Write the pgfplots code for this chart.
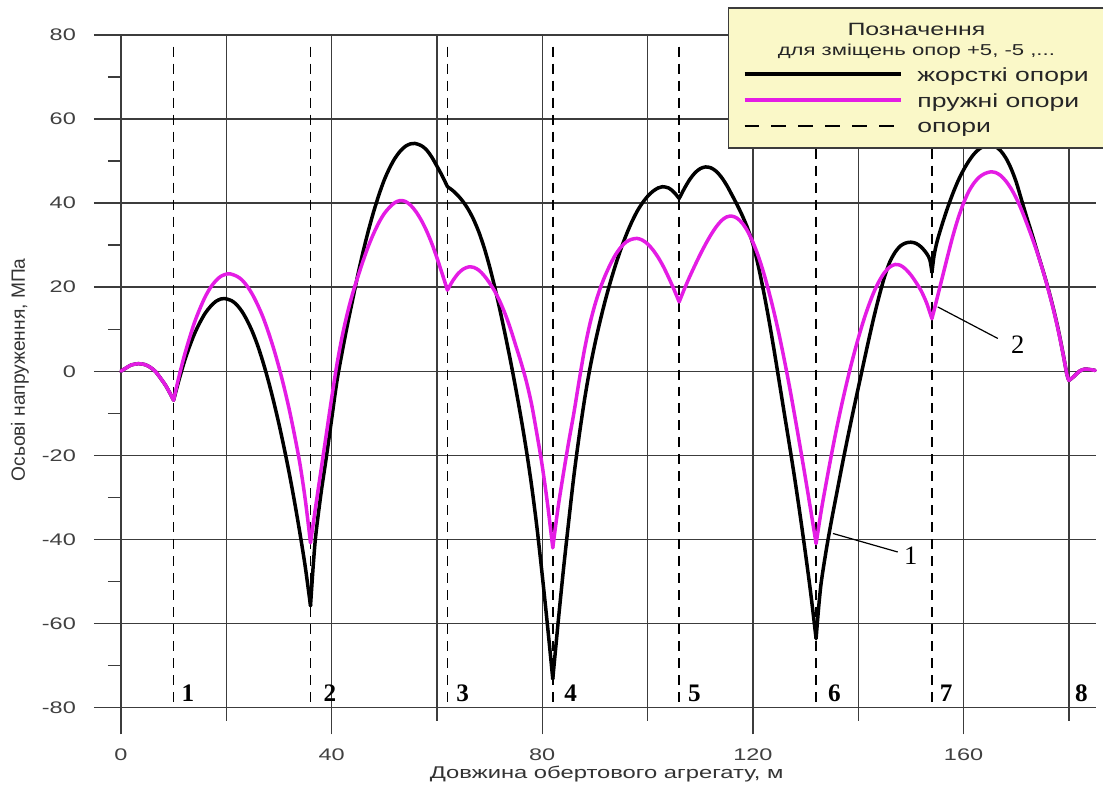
\documentclass[border=0pt]{standalone}
\usepackage{pgfplots}
\pgfplotsset{compat=1.18}
\usepackage{fontspec}
\setmainfont{Liberation Sans}[FakeStretch=1.4]
\newfontfamily\ylabfont{Liberation Sans}
\newfontfamily\numfont{Liberation Serif}
\definecolor{magc}{RGB}{228,28,228}
\definecolor{legbg}{RGB}{250,248,200}
\definecolor{gridc}{RGB}{60,60,60}

\pgfplotsset{
  blk/.style={black, line width=1.75pt, smooth, tension=0.5, line cap=round, line join=round},
  mag/.style={magc, line width=1.75pt, smooth, tension=0.5, line cap=round, line join=round},
}
\tikzset{supnum/.style={font=\numfont\bfseries\fontsize{12.6}{14}\selectfont}}

\begin{document}
\begin{tikzpicture}
\begin{axis}[
  at={(0pt,0pt)}, anchor=south west,
  scale only axis, width=488pt, height=336.5pt,
  xmin=0, xmax=185.2, ymin=-80, ymax=80,
  axis line style={draw=none},
  tick pos=left, tick align=outside,
  xtick={0,40,80,120,160}, minor xtick={20,60,100,140,180},
  ytick={-80,-60,...,80}, minor ytick={-70,-50,...,70},
  xticklabels={0,40,80,120,160},
  yticklabels={-80,-60,-40,-20,0,20,40,60,80},
  xmajorgrids, xminorgrids, ymajorgrids,
  grid style={line width=0.7pt, gridc},
  minor grid style={line width=0.7pt, gridc},
  tick style={line width=0.7pt, gridc},
  major tick length=13.5pt, minor tick length=6.5pt,
  tick label style={font=\fontsize{8.4}{10}\selectfont, text=black!75},
  xticklabel style={yshift=-3.5pt},
  yticklabel style={xshift=-5.5pt},
  xlabel={Довжина обертового агрегату, м},
  ylabel={Осьові напруження, МПа},
  every axis x label/.style={at={(axis description cs:0.498,-0.0996)}, anchor=center,
    font=\fontsize{8.5}{10}\selectfont, text=black!80},
  every axis y label/.style={at={(axis description cs:-0.1035,0.502)}, anchor=center,
    rotate=90, font=\ylabfont\fontsize{9.6}{11}\selectfont, text=black!80},
  clip=false,
]

% supports (dashed)
\pgfplotsinvokeforeach{10,36,62,82,106,132,154}{
  \addplot[black, line width=0.85pt, dash pattern=on 5pt off 3.5pt] coordinates {(#1,77.2) (#1,-80)};
}

% rigid supports (black)
\addplot[blk] coordinates {(0,0) (1,0.8) (2,1.5) (3.3,1.8) (4.5,1.6) (5.5,1.0) (6.5,0) (7.5,-1.6) (8.5,-3.4) (9.3,-5.2) (10,-6.9)};
\addplot[blk] coordinates {(10,-6.9) (11,-2.2) (12,2.1) (13,5.8) (14,9) (15,11.6) (16,13.8) (17,15.4) (18,16.6) (19,17.2) (19.7,17.3) (21,16.8) (22,15.8) (23,14.2) (24,12) (25,9.3) (26,6) (27,2.1) (28,-2.3) (29,-7.2) (30,-12.5) (31,-18.3) (32,-24.5) (33,-31.3) (34,-38.6) (35,-46.5) (36,-55.8)};
\addplot[blk] coordinates {(36,-55.8) (36.5,-46.5) (37,-39) (38,-29) (39,-20.5) (40,-11.5) (41,-2.5) (42,4.5) (43,11) (44,17) (45,23) (46,28.5) (47,33.5) (48,38) (49,42) (50,45.5) (51,48.3) (52,50.6) (53,52.3) (54,53.5) (55,54.1) (55.8,54.2) (57,53.7) (58,52.7) (59,51) (60,48.8) (61,46.5) (62,43.9)};
\addplot[blk] coordinates {(62,43.9) (63,43) (64,41.8) (65,40.3) (66,38.4) (67,36) (68,33) (69,29.3) (70,24.9) (71,19.9) (72,14.4) (73,8.5) (74,2.3) (75,-4.3) (76,-11.3) (77,-18.9) (78,-27.4) (79,-37.2) (80,-48.5) (81,-60.5) (82,-73.2)};
\addplot[blk] coordinates {(82,-73.2) (83,-60) (84,-47.5) (85,-36) (86,-25) (87,-15.5) (88,-7) (89,0.3) (90,6.5) (91,12) (92,17) (93,21.5) (94,25.6) (95,29.3) (96,32.6) (97,35.5) (98,38) (99,40) (100,41.6) (101,42.8) (102,43.6) (102.8,43.9) (104,43.6) (105,42.6) (106,41.1)};
\addplot[blk] coordinates {(106,41.1) (107,43.5) (108,45.6) (109,47.2) (110,48.2) (111,48.6) (112,48.4) (113,47.6) (114,46.2) (115,44.3) (116,42) (117,39.6) (118,37) (119,34) (120,30.3) (121,25.2) (122,19.2) (123,12.5) (124,5.2) (125,-2.5) (126,-10.3) (127,-18) (128,-26) (129,-34.5) (130,-43.5) (131,-53) (132,-63.6)};
\addplot[blk] coordinates {(132,-63.6) (132.5,-56) (133,-50) (134,-42) (135,-35) (136,-28.5) (137,-22) (138,-15.8) (139,-9.8) (140,-4) (141,1.8) (142,7.5) (143,13) (144,18) (145,22.5) (146,26) (147,28.3) (148,29.8) (149,30.5) (150,30.7) (151,30.4) (152,29.5) (153,28) (153.6,26.5) (154,23.5)};
\addplot[blk] coordinates {(154,23.5) (154.4,27.5) (155,31) (156,35.2) (157,39) (158,42.4) (159,45.4) (160,47.9) (161,50) (162,51.7) (163,52.9) (164,53.6) (165,53.8) (166,53.5) (167,52.5) (168,50.8) (169,48.3) (170,45) (171,40.8) (172,36.6) (173,32.6) (174,28.4) (175,24.3) (176,20) (177,15.2) (178,9.8) (179,3.5) (179.6,-0.6) (180,-2.2)};
\addplot[blk] coordinates {(180,-2.2) (181,-1.2) (182,0) (183,0.5) (184,0.4) (185,0.2)};

% elastic supports (magenta)
\addplot[mag] coordinates {(0,0) (1,0.8) (2,1.5) (3.3,1.8) (4.5,1.6) (5.5,1.0) (6.5,0) (7.5,-1.6) (8.5,-3.4) (9.3,-5.2) (10,-6.9)};
\addplot[mag] coordinates {(10,-6.9) (11,-1.4) (12,3.5) (13,7.8) (14,11.7) (15,14.9) (16,17.7) (17,19.9) (18,21.5) (19,22.6) (20.5,23.2) (22,22.6) (23,21.7) (24,20.2) (25,18.2) (26,15.7) (27,12.8) (28,9.3) (29,5.4) (30,1) (31,-3.9) (32,-9.3) (33,-15.4) (34,-22.1) (35,-30.5) (36,-40.8)};
\addplot[mag] coordinates {(36,-40.8) (37,-32) (38,-23.5) (39,-15) (40,-6.5) (41,1.5) (42,8.2) (43,13.8) (44,18.5) (45,22.5) (46,26.3) (47,29.8) (48,32.8) (49,35.4) (50,37.5) (51,39) (52,40.1) (53,40.6) (54,40.4) (55,39.5) (56,38) (57,36) (58,33.5) (59,30.5) (60,27) (61,23.2) (62,19.3)};
\addplot[mag] coordinates {(62,19.3) (63,21.5) (64,23.2) (65,24.3) (66,24.8) (67,24.7) (68,24) (69,22.7) (70,21) (71,19) (72,16.5) (73,13.5) (74,10) (75,6) (76,2) (77,-2.5) (78,-8) (79,-15) (80,-22.5) (81,-31.5) (82,-42)};
\addplot[mag] coordinates {(82,-42) (83,-32.5) (84,-24.5) (85,-17) (86,-10) (87,-2.3) (88,5) (89,11) (90,15.8) (91,19.7) (92,22.9) (93,25.6) (94,27.9) (95,29.6) (96,30.8) (97,31.4) (98,31.6) (99,31.2) (100,30.3) (101,28.9) (102,27.1) (103,24.9) (104,22.3) (105,19.5) (106,16.5)};
\addplot[mag] coordinates {(106,16.5) (107,19.6) (108,22.5) (109,25.2) (110,27.8) (111,30.2) (112,32.4) (113,34.3) (114,35.8) (115,36.7) (116,36.9) (117,36.4) (118,35.2) (119,33.3) (120,30.7) (121,27.5) (122,23.6) (123,19.1) (124,14.1) (125,8.6) (126,2.5) (127,-4) (128,-11) (129,-18.2) (130,-25.6) (131,-33.2) (132,-41)};
\addplot[mag] coordinates {(132,-41) (133,-33) (134,-26) (135,-19.3) (136,-13) (137,-7.2) (138,-1.8) (139,3.2) (140,7.8) (141,12) (142,15.7) (143,18.9) (144,21.5) (145,23.5) (146,24.8) (147,25.4) (148,25.2) (149,24.3) (150,22.9) (151,21.1) (152,19) (153,16.2) (154,12.5)};
\addplot[mag] coordinates {(154,12.5) (154.5,15) (155,17.5) (156,22.5) (157,27.5) (158,32.3) (159,36.5) (160,40) (161,42.8) (162,44.8) (163,46.2) (164,47) (165,47.4) (166,47.3) (167,46.6) (168,45.3) (169,43.5) (170,41.2) (171,38.4) (172,35.2) (173,31.8) (174,28.2) (175,24.2) (176,19.8) (177,15) (178,9.6) (179,3.4) (179.6,-0.6) (180,-2.2)};
\addplot[mag] coordinates {(180,-2.2) (181,-1.2) (182,0) (183,0.5) (184,0.4) (185,0.2)};

% support numbers
\node[supnum] at (axis cs:12.7,-76.7) {1};
\node[supnum] at (axis cs:39.7,-76.7) {2};
\node[supnum] at (axis cs:64.9,-76.7) {3};
\node[supnum] at (axis cs:85.4,-76.7) {4};
\node[supnum] at (axis cs:108.9,-76.7) {5};
\node[supnum] at (axis cs:135.5,-76.7) {6};
\node[supnum] at (axis cs:156.7,-76.7) {7};
\node[supnum] at (axis cs:182.4,-76.7) {8};

% callouts
\draw[line width=0.6pt] (axis cs:135.2,-38.6) -- (axis cs:147.5,-43);
\node[font=\numfont\fontsize{13.3}{15}\selectfont] at (axis cs:150,-43.8) {1};
\draw[line width=0.6pt] (axis cs:155.1,15.3) -- (axis cs:166.5,7.8);
\node[font=\numfont\fontsize{13.3}{15}\selectfont] at (axis cs:170.3,6.2) {2};
\end{axis}

% legend box
\fill[legbg] (304pt,280pt) rectangle (491.5pt,350pt);
\draw[line width=0.75pt, gridc] (491.5pt,350pt) -- (304pt,350pt) -- (304pt,280pt) -- (491.5pt,280pt);
\node[anchor=base, font=\fontsize{8.9}{10}\selectfont, text=black!85] at (398pt,336pt) {Позначення};
\node[anchor=base, font=\fontsize{7.9}{9}\selectfont, text=black!85] at (398pt,326pt) {для зміщень опор +5, -5 ,...};
\draw[black, line width=1.75pt] (312pt,317pt) -- (390.5pt,317pt);
\draw[magc, line width=1.75pt] (312pt,304pt) -- (390.5pt,304pt);
\draw[black, line width=0.9pt, dash pattern=on 7.5pt off 6pt] (312pt,291pt) -- (390.5pt,291pt);
\node[anchor=base west, font=\fontsize{9.5}{11}\selectfont, text=black!85] at (395pt,313pt) {жорсткі опори};
\node[anchor=base west, font=\fontsize{9.5}{11}\selectfont, text=black!85] at (395pt,300pt) {пружні опори};
\node[anchor=base west, font=\fontsize{9.5}{11}\selectfont, text=black!85] at (395pt,287.5pt) {опори};

% page frame
\path (-60.5pt,-41pt) rectangle (491.5pt,354pt);
\end{tikzpicture}
\end{document}
